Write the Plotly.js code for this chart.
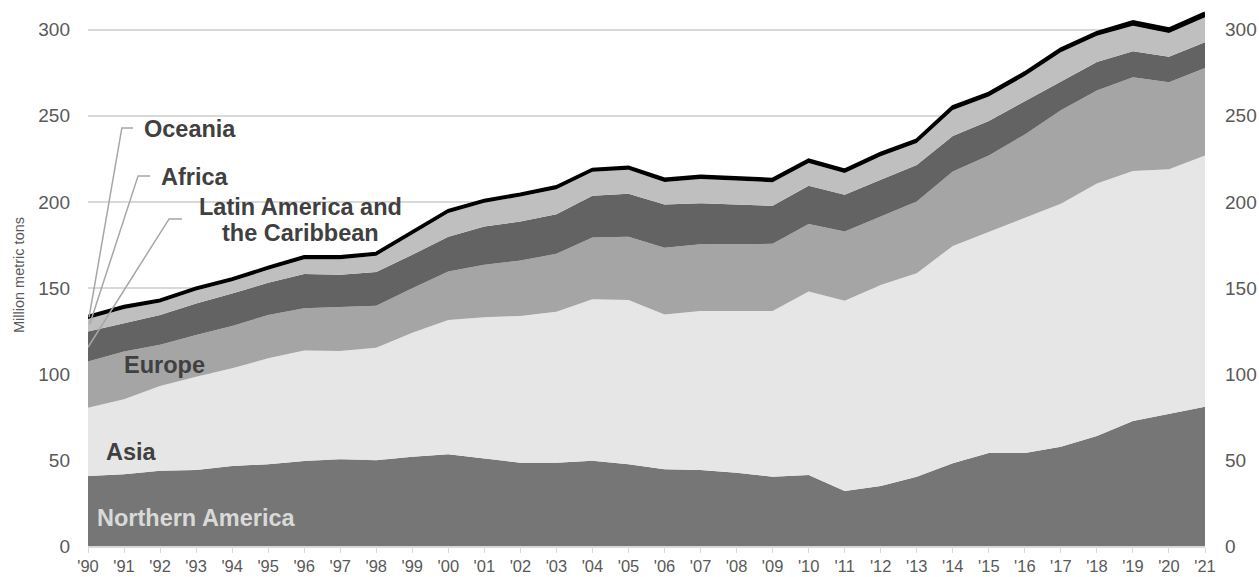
<!DOCTYPE html>
<html>
<head>
<meta charset="utf-8">
<script src="https://cdn.plot.ly/plotly-3.0.1.min.js"></script>
<style>html,body{margin:0;padding:0;background:#fff;}#chart{width:1259px;height:577px;}</style>
</head>
<body>
<div id="chart"></div>
<script>
const years = [1990,1991,1992,1993,1994,1995,1996,1997,1998,1999,2000,2001,2002,2003,2004,2005,2006,2007,2008,2009,2010,2011,2012,2013,2014,2015,2016,2017,2018,2019,2020,2021];
const tickLabels = ["'90","'91","'92","'93","'94","'95","'96","'97","'98","'99","'00","'01","'02","'03","'04","'05","'06","'07","'08","'09","'10","'11","'12","'13","'14","'15","'16","'17","'18","'19","'20","'21"];
const northernAmerica = [40.7,41.7,43.8,44.2,46.5,47.5,49.4,50.4,49.8,51.9,53.3,51.0,48.4,48.4,49.6,47.5,44.6,44.2,42.6,40.3,41.3,32.0,34.9,40.3,48.1,54.0,54.0,57.7,63.9,72.6,76.8,80.9];
const asia = [39.7,43.6,49.2,54.2,56.8,61.6,64.2,63.0,65.4,72.1,78.1,82.0,85.3,87.8,93.8,95.5,90.0,92.4,94.0,96.3,106.6,110.6,116.8,118.2,126.3,128.7,137.0,141.2,146.8,145.4,142.2,146.0];
const europe = [26.8,27.7,23.9,24.3,24.6,25.2,24.6,25.4,24.4,25.8,28.1,30.4,32.2,33.6,35.9,36.8,38.8,38.8,39.0,39.0,39.3,40.2,39.8,41.7,43.2,44.2,48.2,54.4,54.0,54.4,50.5,50.9];
const latinAmerica = [17.4,16.5,17.4,18.3,18.8,18.7,19.9,18.8,19.6,19.4,20.3,22.3,22.7,23.0,24.2,24.9,25.1,23.8,22.7,22.1,22.1,21.3,21.3,21.3,20.7,20.1,19.3,16.6,16.6,15.1,14.9,14.9];
const africa = [7.4,8.3,7.2,7.5,7.1,7.5,8.6,9.1,9.5,12.0,13.7,13.8,14.5,14.6,14.0,14.0,13.0,14.1,14.2,13.7,13.3,12.7,13.7,12.7,15.1,14.2,14.6,17.1,15.2,14.8,13.7,14.6];
const oceania = [1.5,1.5,1.5,1.5,1.5,1.5,1.5,1.5,1.5,1.5,1.5,1.5,1.5,1.5,1.5,1.5,1.8,1.8,1.8,1.8,1.8,1.8,1.8,1.8,2.0,2.0,2.0,2.0,2.0,2.5,2.5,2.5];
const yTicks = [0,50,100,150,200,250,300];

const FONT = "Liberation Sans, Arial, sans-serif";
function area(name, y, fill, lineColor, lineWidth) {
  return {x: years, y: y, name: name, type: 'scatter', mode: 'lines', stackgroup: 'one',
    fillcolor: fill, line: {color: lineColor, width: lineWidth, shape: 'linear'}, hoverinfo: 'skip'};
}
const traces = [
  area('Northern America', northernAmerica, '#767676', '#767676', 0),
  area('Asia', asia, '#e6e6e6', '#e6e6e6', 0),
  area('Europe', europe, '#a5a5a5', '#a5a5a5', 0),
  area('Latin America and the Caribbean', latinAmerica, '#636363', '#636363', 0),
  area('Africa', africa, '#bfbfbf', '#bfbfbf', 0),
  area('Oceania', oceania, '#000000', '#000000', 3),
  {x: [years[0], years[years.length-1]], y: [0, 0], yaxis: 'y2', type: 'scatter', mode: 'lines',
   line: {width: 0}, showlegend: false, hoverinfo: 'skip'}
];

const lblFont = {family: FONT, size: 23.5, color: '#404040', weight: 'bold'};
function lbl(x, y, text, anchor, color) {
  return {x: x, y: y, text: '<b>' + text + '</b>', xanchor: anchor, yanchor: 'middle', showarrow: false,
    font: Object.assign({}, lblFont, color ? {color: color} : {})};
}
const annotations = [
  lbl(1990.19, 16.3, 'Northern America', 'left', '#d9d9d9'),
  lbl(1990.44, 54.7, 'Asia', 'left'),
  lbl(1990.94, 105.2, 'Europe', 'left'),
  lbl(1995.91, 197.1, 'Latin America and', 'center'),
  lbl(1995.91, 182.0, 'the Caribbean', 'center'),
  lbl(1991.97, 214.5, 'Africa', 'left'),
  lbl(1991.5, 242.4, 'Oceania', 'left')
];
const leader = {color: '#a6a6a6', width: 1.5};
const shapes = [
  {type: 'path', xref: 'x', yref: 'y', path: 'M 1990.03,133 L 1990.94,243 L 1991.25,243', line: leader},
  {type: 'path', xref: 'x', yref: 'y', path: 'M 1990.05,129 L 1991.39,215.1 L 1991.72,215.1', line: leader},
  {type: 'path', xref: 'x', yref: 'y', path: 'M 1990.0,115.5 L 1992.25,190.1 L 1992.61,190.1', line: leader}
];

const layout = {
  width: 1259, height: 577,
  margin: {l: 88, r: 54, t: 4, b: 31, pad: 0},
  paper_bgcolor: '#ffffff', plot_bgcolor: '#ffffff',
  showlegend: false,
  font: {family: FONT, color: '#595959'},
  xaxis: {
    type: 'linear', range: [1990, 2021], tickvals: years, ticktext: tickLabels,
    showgrid: false, zeroline: false, showline: true, linecolor: '#d9d9d9', linewidth: 1.5,
    ticks: 'outside', ticklen: 5, tickcolor: '#d9d9d9', tickwidth: 1,
    tickfont: {family: FONT, size: 16.5, color: '#595959'}, fixedrange: true
  },
  yaxis: {
    range: [0, 315], tickvals: yTicks, showgrid: true, gridcolor: '#d9d9d9', gridwidth: 1.5,
    zeroline: false, showline: false, ticks: '', ticklabelstandoff: 17,
    tickfont: {family: FONT, size: 19, color: '#595959'},
    title: {text: 'Million metric tons', font: {family: FONT, size: 14.5, color: '#595959'}, standoff: 10}
  },
  yaxis2: {
    range: [0, 315], tickvals: yTicks, overlaying: 'y', side: 'right', showgrid: false,
    zeroline: false, showline: false, ticks: '', ticklabelstandoff: 19,
    tickfont: {family: FONT, size: 19, color: '#595959'}
  },
  annotations: annotations,
  shapes: shapes
};
Plotly.newPlot('chart', traces, layout, {displayModeBar: false, staticPlot: true});
</script>
</body>
</html>
